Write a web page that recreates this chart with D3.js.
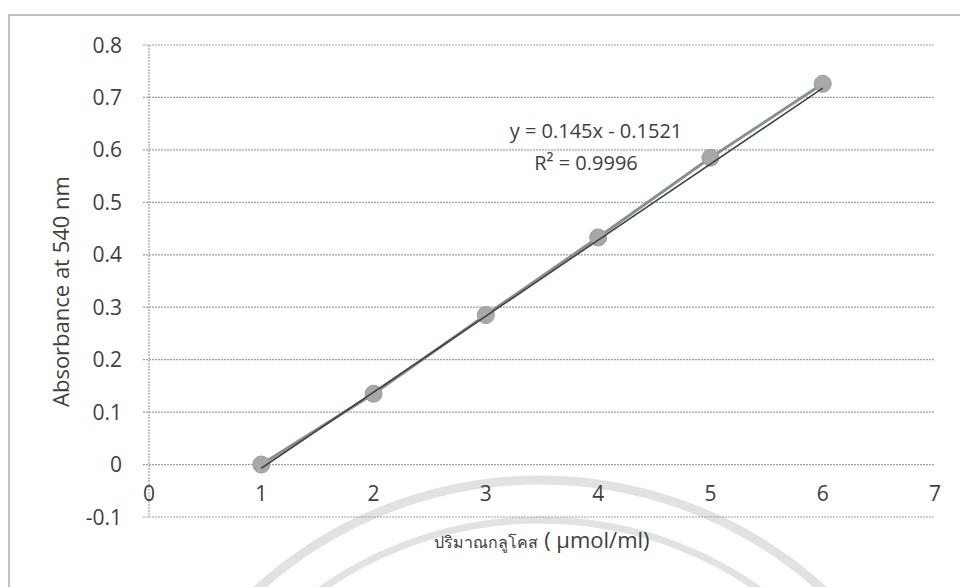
<!DOCTYPE html>
<html><head><meta charset="utf-8">
<script src="https://cdn.jsdelivr.net/npm/d3@7"></script>
<style>body{margin:0;background:#fff}svg{display:block}text{font-family:"Open Sans","Noto Sans",sans-serif;fill:#404040}</style>
</head><body>
<svg id="c" width="960" height="587"></svg>
<script>
const glucose = [1, 2, 3, 4, 5, 6];
const absorbance = [0, 0.135, 0.285, 0.433, 0.585, 0.726];
const xTicks = [0, 1, 2, 3, 4, 5, 6, 7];
const yTicks = [-0.1, 0, 0.1, 0.2, 0.3, 0.4, 0.5, 0.6, 0.7, 0.8];
const slope = 0.145, intercept = -0.1521;
const eqText = "y = 0.145x - 0.1521";
const r2Text = "R² = 0.9996";
const xTitleThai = "ปริมาณกลูโคส";
const xTitleUnit = " ( µmol/ml)";
const yTitle = "Absorbance at 540 nm";

const svg = d3.select("#c");
const x = d3.scaleLinear().domain([0, 7]).range([149, 935]);
const y = d3.scaleLinear().domain([-0.1, 0.8]).range([517, 45]);

// outer border
svg.append("path").attr("d", "M9,587 L9,15 L960,15").attr("fill", "none").attr("stroke", "#b0b0b0").attr("stroke-width", 1.5);

// watermark arcs (faint)
const wm = svg.append("g").attr("fill", "none").attr("stroke", "#e2e2e2");
wm.append("circle").attr("cx", 540).attr("cy", 900).attr("r", 420).attr("stroke-width", 9);
wm.append("circle").attr("cx", 540).attr("cy", 900).attr("r", 380).attr("stroke-width", 7);

// gridlines
svg.append("g").selectAll("line").data(yTicks).join("line")
  .attr("x1", x(0) - 6).attr("x2", x(7)).attr("y1", d => y(d)).attr("y2", d => y(d))
  .attr("stroke", "#a0a0a0").attr("stroke-width", 1.2).attr("stroke-dasharray", "2,1");

// y axis line at x=0
svg.append("line").attr("x1", x(0)).attr("x2", x(0)).attr("y1", y(0.8)).attr("y2", y(-0.1))
  .attr("stroke", "#a0a0a0").attr("stroke-width", 1.2).attr("stroke-dasharray", "2,1");

// y tick labels
svg.append("g").selectAll("text").data(yTicks).join("text")
  .attr("x", 122).attr("y", d => y(d)).attr("dy", "0.36em").attr("text-anchor", "end")
  .attr("font-size", 21).text(d => d === 0 ? "0" : d3.format(".1f")(d).replace("−", "-"));

// x tick labels (low position)
svg.append("g").selectAll("text").data(xTicks).join("text")
  .attr("x", d => x(d)).attr("y", 501).attr("text-anchor", "middle")
  .attr("font-size", 21).text(d => d);

// axis titles
svg.append("text").attr("transform", `translate(69,${y(0.33)}) rotate(-90)`).attr("text-anchor", "middle")
  .attr("font-size", 22).text(yTitle);
const xt = svg.append("text").attr("x", 542).attr("y", 548).attr("text-anchor", "middle");
xt.append("tspan").attr("font-size", 16).text(xTitleThai);
xt.append("tspan").attr("font-size", 22).text(xTitleUnit);

// series line
const pts = glucose.map((g, i) => [g, absorbance[i]]);
svg.append("path").datum(pts)
  .attr("d", d3.line().x(d => x(d[0])).y(d => y(d[1])))
  .attr("fill", "none").attr("stroke", "#8a9090").attr("stroke-width", 3);

// markers
svg.append("g").selectAll("circle").data(pts).join("circle")
  .attr("cx", d => x(d[0])).attr("cy", d => y(d[1])).attr("r", 8.5)
  .attr("fill", "#a8a8a8").attr("stroke", "#9a9a9a").attr("stroke-width", 1);

// trendline
const tl = [glucose[0], glucose[glucose.length - 1]].map(g => [g, slope * g + intercept]);
svg.append("path").datum(tl)
  .attr("d", d3.line().x(d => x(d[0])).y(d => y(d[1])))
  .attr("fill", "none").attr("stroke", "#3c4848").attr("stroke-width", 1.6);

// equation
svg.append("text").attr("x", 596).attr("y", 138).attr("text-anchor", "middle").attr("font-size", 20).text(eqText);
svg.append("text").attr("x", 586).attr("y", 170).attr("text-anchor", "middle").attr("font-size", 20).text(r2Text);
</script>
</body></html>
